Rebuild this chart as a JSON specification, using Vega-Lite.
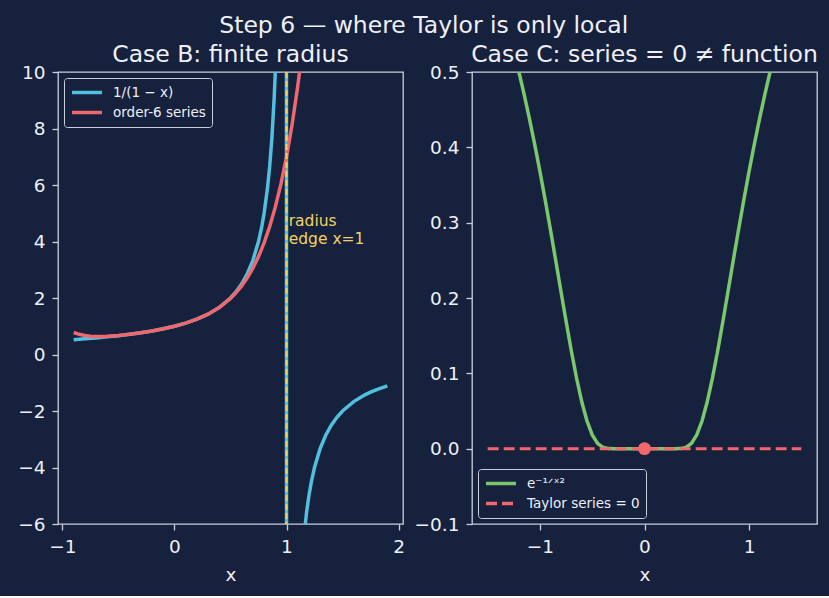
{
  "$schema": "https://vega.github.io/schema/vega-lite/v6.json",
  "background": "#16213e",
  "padding": {"left": 17, "top": 14, "right": 12, "bottom": 11},
  "title": {
    "text": "Step 6 — where Taylor is only local",
    "fontSize": 23.5,
    "fontWeight": "normal",
    "color": "#eef0f5",
    "anchor": "middle",
    "offset": 4,
    "dx": 6
  },
  "config": {
    "font": "DejaVu Sans",
    "view": {"stroke": "#c9cfdc", "strokeWidth": 1.3},
    "axis": {
      "grid": false,
      "domain": false,
      "tickColor": "#c9cfdc",
      "tickSize": 6,
      "tickWidth": 1.3,
      "labelColor": "#eef0f5",
      "labelFontSize": 18.5,
      "labelFont": "DejaVu Sans",
      "labelPadding": 7,
      "titleColor": "#eef0f5",
      "titleFontSize": 18.5,
      "titleFont": "DejaVu Sans",
      "titleFontWeight": "normal",
      "titlePadding": 10
    },
    "title": {"fontSize": 23.5, "fontWeight": "normal", "color": "#eef0f5", "offset": -3, "font": "DejaVu Sans"},
    "legend": {
      "offset": 6,
      "padding": 6,
      "strokeColor": "#c9cfdc",
      "fillColor": "#16213e",
      "cornerRadius": 3,
      "labelColor": "#eef0f5",
      "labelFontSize": 13.5,
      "labelFont": "DejaVu Sans",
      "symbolType": "stroke",
      "symbolSize": 900,
      "symbolStrokeWidth": 3.5,
      "labelOffset": 9,
      "rowPadding": 3,
      "clipHeight": 17
    }
  },
  "spacing": 69,
  "bounds": "flush",
  "resolve": {
    "scale": {"color": "independent", "strokeDash": "independent"},
    "legend": {"color": "independent", "strokeDash": "independent"}
  },
  "hconcat": [
    {
      "width": 345,
      "height": 452,
      "title": "Case B: finite radius",
      "data": {
        "values": [
          {"series": "1/(1 − x)", "x": -0.9, "y": 0.5263},
          {"series": "1/(1 − x)", "x": -0.8, "y": 0.5556},
          {"series": "1/(1 − x)", "x": -0.7, "y": 0.5882},
          {"series": "1/(1 − x)", "x": -0.6, "y": 0.625},
          {"series": "1/(1 − x)", "x": -0.5, "y": 0.6667},
          {"series": "1/(1 − x)", "x": -0.4, "y": 0.7143},
          {"series": "1/(1 − x)", "x": -0.3, "y": 0.7692},
          {"series": "1/(1 − x)", "x": -0.2, "y": 0.8333},
          {"series": "1/(1 − x)", "x": -0.1, "y": 0.9091},
          {"series": "1/(1 − x)", "x": 0, "y": 1},
          {"series": "1/(1 − x)", "x": 0.1, "y": 1.1111},
          {"series": "1/(1 − x)", "x": 0.2, "y": 1.25},
          {"series": "1/(1 − x)", "x": 0.3, "y": 1.4286},
          {"series": "1/(1 − x)", "x": 0.4, "y": 1.6667},
          {"series": "1/(1 − x)", "x": 0.5, "y": 2},
          {"series": "1/(1 − x)", "x": 0.55, "y": 2.2222},
          {"series": "1/(1 − x)", "x": 0.6, "y": 2.5},
          {"series": "1/(1 − x)", "x": 0.65, "y": 2.8571},
          {"series": "1/(1 − x)", "x": 0.7, "y": 3.3333},
          {"series": "1/(1 − x)", "x": 0.75, "y": 4},
          {"series": "1/(1 − x)", "x": 0.78, "y": 4.5455},
          {"series": "1/(1 − x)", "x": 0.8, "y": 5},
          {"series": "1/(1 − x)", "x": 0.83, "y": 5.8824},
          {"series": "1/(1 − x)", "x": 0.85, "y": 6.6667},
          {"series": "1/(1 − x)", "x": 0.87, "y": 7.6923},
          {"series": "1/(1 − x)", "x": 0.89, "y": 9.0909},
          {"series": "1/(1 − x)", "x": 0.9, "y": 10},
          {"series": "1/(1 − x)", "x": 0.92, "y": 12.5},
          {"series": "1/(1 − x)", "x": 0.95, "y": 20},
          {"series": "1/(1 − x)", "x": 0.98, "y": 50},
          {"series": "1/(1 − x)", "x": 0.995, "y": 200},
          {"series": "1/(1 − x)", "x": 1.005, "y": -200},
          {"series": "1/(1 − x)", "x": 1.02, "y": -50},
          {"series": "1/(1 − x)", "x": 1.05, "y": -20},
          {"series": "1/(1 − x)", "x": 1.1, "y": -10},
          {"series": "1/(1 − x)", "x": 1.12, "y": -8.3333},
          {"series": "1/(1 − x)", "x": 1.15, "y": -6.6667},
          {"series": "1/(1 − x)", "x": 1.18, "y": -5.5556},
          {"series": "1/(1 − x)", "x": 1.2, "y": -5},
          {"series": "1/(1 − x)", "x": 1.22, "y": -4.5455},
          {"series": "1/(1 − x)", "x": 1.25, "y": -4},
          {"series": "1/(1 − x)", "x": 1.3, "y": -3.3333},
          {"series": "1/(1 − x)", "x": 1.35, "y": -2.8571},
          {"series": "1/(1 − x)", "x": 1.4, "y": -2.5},
          {"series": "1/(1 − x)", "x": 1.45, "y": -2.2222},
          {"series": "1/(1 − x)", "x": 1.5, "y": -2},
          {"series": "1/(1 − x)", "x": 1.6, "y": -1.6667},
          {"series": "1/(1 − x)", "x": 1.7, "y": -1.4286},
          {"series": "1/(1 − x)", "x": 1.75, "y": -1.3333},
          {"series": "1/(1 − x)", "x": 1.8, "y": -1.25},
          {"series": "1/(1 − x)", "x": 1.9, "y": -1.1111},
          {"series": "order-6 series", "x": -0.9, "y": 0.7781},
          {"series": "order-6 series", "x": -0.85, "y": 0.7138},
          {"series": "order-6 series", "x": -0.8, "y": 0.6721},
          {"series": "order-6 series", "x": -0.75, "y": 0.6477},
          {"series": "order-6 series", "x": -0.7, "y": 0.6367},
          {"series": "order-6 series", "x": -0.65, "y": 0.6358},
          {"series": "order-6 series", "x": -0.6, "y": 0.6425},
          {"series": "order-6 series", "x": -0.5, "y": 0.6719},
          {"series": "order-6 series", "x": -0.4, "y": 0.7155},
          {"series": "order-6 series", "x": -0.3, "y": 0.7694},
          {"series": "order-6 series", "x": -0.2, "y": 0.8333},
          {"series": "order-6 series", "x": -0.1, "y": 0.9091},
          {"series": "order-6 series", "x": 0, "y": 1},
          {"series": "order-6 series", "x": 0.1, "y": 1.1111},
          {"series": "order-6 series", "x": 0.2, "y": 1.25},
          {"series": "order-6 series", "x": 0.3, "y": 1.4283},
          {"series": "order-6 series", "x": 0.4, "y": 1.6639},
          {"series": "order-6 series", "x": 0.5, "y": 1.9844},
          {"series": "order-6 series", "x": 0.55, "y": 2.1884},
          {"series": "order-6 series", "x": 0.6, "y": 2.43},
          {"series": "order-6 series", "x": 0.65, "y": 2.7171},
          {"series": "order-6 series", "x": 0.7, "y": 3.0588},
          {"series": "order-6 series", "x": 0.75, "y": 3.4661},
          {"series": "order-6 series", "x": 0.8, "y": 3.9514},
          {"series": "order-6 series", "x": 0.85, "y": 4.5295},
          {"series": "order-6 series", "x": 0.9, "y": 5.217},
          {"series": "order-6 series", "x": 0.95, "y": 6.0332},
          {"series": "order-6 series", "x": 1.0, "y": 7},
          {"series": "order-6 series", "x": 1.05, "y": 8.142},
          {"series": "order-6 series", "x": 1.1, "y": 9.487},
          {"series": "order-6 series", "x": 1.15, "y": 11.067},
          {"series": "order-6 series", "x": 1.2, "y": 12.916}
        ]
      },
      "encoding": {
        "x": {
          "field": "x",
          "type": "quantitative",
          "scale": {"domain": [-1.04, 2.04], "nice": false, "zero": false},
          "axis": {"values": [-1, 0, 1, 2], "format": "d", "title": "x"}
        },
        "y": {
          "field": "y",
          "type": "quantitative",
          "scale": {"domain": [-6, 10], "nice": false, "zero": false},
          "axis": {"values": [-6, -4, -2, 0, 2, 4, 6, 8, 10], "format": "d", "title": null}
        }
      },
      "layer": [
        {
          "transform": [{"filter": "datum.series === '1/(1 − x)'"}],
          "mark": {"type": "line", "clip": true, "strokeWidth": 3.5},
          "encoding": {
            "color": {
              "field": "series",
              "type": "nominal",
              "scale": {"domain": ["1/(1 − x)", "order-6 series"], "range": ["#52bfdc", "#f0686e"]},
              "legend": {"orient": "top-left", "title": null}
            }
          }
        },
        {
          "transform": [{"filter": "datum.series === 'order-6 series'"}],
          "mark": {"type": "line", "clip": true, "strokeWidth": 3.5},
          "encoding": {
            "color": {
              "field": "series",
              "type": "nominal",
              "scale": {"domain": ["1/(1 − x)", "order-6 series"], "range": ["#52bfdc", "#f0686e"]},
              "legend": {"orient": "top-left", "title": null}
            }
          }
        },
        {
          "data": {"values": [{"x": 1}]},
          "mark": {"type": "rule", "color": "#f2d262", "strokeWidth": 2, "strokeDash": [6, 3]},
          "encoding": {"x": {"field": "x", "type": "quantitative"}, "y": null}
        },
        {
          "data": {"values": [{"x": 1.02, "y": 4, "label": ["radius", "edge x=1"]}]},
          "mark": {"type": "text", "align": "left", "baseline": "bottom", "fontSize": 15.5, "lineHeight": 18, "color": "#f2d262", "dy": -13},
          "encoding": {
            "x": {"field": "x", "type": "quantitative"},
            "y": {"field": "y", "type": "quantitative"},
            "text": {"field": "label"}
          }
        }
      ]
    },
    {
      "width": 345,
      "height": 452,
      "title": "Case C: series = 0 ≠ function",
      "data": {
        "values": [
          {"series": "e⁻¹ᐟˣ²", "x": -1.5, "y": 0.6412},
          {"series": "e⁻¹ᐟˣ²", "x": -1.4, "y": 0.6004},
          {"series": "e⁻¹ᐟˣ²", "x": -1.3, "y": 0.5534},
          {"series": "e⁻¹ᐟˣ²", "x": -1.25, "y": 0.5273},
          {"series": "e⁻¹ᐟˣ²", "x": -1.2, "y": 0.4994},
          {"series": "e⁻¹ᐟˣ²", "x": -1.15, "y": 0.4695},
          {"series": "e⁻¹ᐟˣ²", "x": -1.1, "y": 0.4376},
          {"series": "e⁻¹ᐟˣ²", "x": -1.05, "y": 0.4037},
          {"series": "e⁻¹ᐟˣ²", "x": -1.0, "y": 0.3679},
          {"series": "e⁻¹ᐟˣ²", "x": -0.95, "y": 0.3302},
          {"series": "e⁻¹ᐟˣ²", "x": -0.9, "y": 0.291},
          {"series": "e⁻¹ᐟˣ²", "x": -0.85, "y": 0.2506},
          {"series": "e⁻¹ᐟˣ²", "x": -0.8, "y": 0.2096},
          {"series": "e⁻¹ᐟˣ²", "x": -0.75, "y": 0.169},
          {"series": "e⁻¹ᐟˣ²", "x": -0.7, "y": 0.1299},
          {"series": "e⁻¹ᐟˣ²", "x": -0.65, "y": 0.0938},
          {"series": "e⁻¹ᐟˣ²", "x": -0.6, "y": 0.0622},
          {"series": "e⁻¹ᐟˣ²", "x": -0.55, "y": 0.0367},
          {"series": "e⁻¹ᐟˣ²", "x": -0.5, "y": 0.0183},
          {"series": "e⁻¹ᐟˣ²", "x": -0.45, "y": 0.0072},
          {"series": "e⁻¹ᐟˣ²", "x": -0.4, "y": 0.0019},
          {"series": "e⁻¹ᐟˣ²", "x": -0.35, "y": 0.0003},
          {"series": "e⁻¹ᐟˣ²", "x": -0.3, "y": 0},
          {"series": "e⁻¹ᐟˣ²", "x": -0.2, "y": 0},
          {"series": "e⁻¹ᐟˣ²", "x": -0.1, "y": 0},
          {"series": "e⁻¹ᐟˣ²", "x": 0, "y": 0},
          {"series": "e⁻¹ᐟˣ²", "x": 0.1, "y": 0},
          {"series": "e⁻¹ᐟˣ²", "x": 0.2, "y": 0},
          {"series": "e⁻¹ᐟˣ²", "x": 0.3, "y": 0},
          {"series": "e⁻¹ᐟˣ²", "x": 0.35, "y": 0.0003},
          {"series": "e⁻¹ᐟˣ²", "x": 0.4, "y": 0.0019},
          {"series": "e⁻¹ᐟˣ²", "x": 0.45, "y": 0.0072},
          {"series": "e⁻¹ᐟˣ²", "x": 0.5, "y": 0.0183},
          {"series": "e⁻¹ᐟˣ²", "x": 0.55, "y": 0.0367},
          {"series": "e⁻¹ᐟˣ²", "x": 0.6, "y": 0.0622},
          {"series": "e⁻¹ᐟˣ²", "x": 0.65, "y": 0.0938},
          {"series": "e⁻¹ᐟˣ²", "x": 0.7, "y": 0.1299},
          {"series": "e⁻¹ᐟˣ²", "x": 0.75, "y": 0.169},
          {"series": "e⁻¹ᐟˣ²", "x": 0.8, "y": 0.2096},
          {"series": "e⁻¹ᐟˣ²", "x": 0.85, "y": 0.2506},
          {"series": "e⁻¹ᐟˣ²", "x": 0.9, "y": 0.291},
          {"series": "e⁻¹ᐟˣ²", "x": 0.95, "y": 0.3302},
          {"series": "e⁻¹ᐟˣ²", "x": 1.0, "y": 0.3679},
          {"series": "e⁻¹ᐟˣ²", "x": 1.05, "y": 0.4037},
          {"series": "e⁻¹ᐟˣ²", "x": 1.1, "y": 0.4376},
          {"series": "e⁻¹ᐟˣ²", "x": 1.15, "y": 0.4695},
          {"series": "e⁻¹ᐟˣ²", "x": 1.2, "y": 0.4994},
          {"series": "e⁻¹ᐟˣ²", "x": 1.25, "y": 0.5273},
          {"series": "e⁻¹ᐟˣ²", "x": 1.3, "y": 0.5534},
          {"series": "e⁻¹ᐟˣ²", "x": 1.4, "y": 0.6004},
          {"series": "e⁻¹ᐟˣ²", "x": 1.5, "y": 0.6412},
          {"series": "Taylor series = 0", "x": -1.5, "y": 0},
          {"series": "Taylor series = 0", "x": 1.5, "y": 0}
        ]
      },
      "encoding": {
        "x": {
          "field": "x",
          "type": "quantitative",
          "scale": {"domain": [-1.65, 1.65], "nice": false, "zero": false},
          "axis": {"values": [-1, 0, 1], "format": "d", "title": "x"}
        },
        "y": {
          "field": "y",
          "type": "quantitative",
          "scale": {"domain": [-0.1, 0.5], "nice": false, "zero": false},
          "axis": {"values": [-0.1, 0, 0.1, 0.2, 0.3, 0.4, 0.5], "format": ".1f", "title": null}
        }
      },
      "layer": [
        {
          "transform": [{"filter": "datum.series !== 'Taylor series = 0'"}],
          "mark": {"type": "line", "clip": true, "strokeWidth": 3.5},
          "encoding": {
            "color": {
              "field": "series",
              "type": "nominal",
              "scale": {"domain": ["e⁻¹ᐟˣ²", "Taylor series = 0"], "range": ["#7bc86c", "#f0686e"]},
              "legend": {"orient": "bottom-left", "title": null}
            },
            "strokeDash": {
              "field": "series",
              "type": "nominal",
              "scale": {"domain": ["e⁻¹ᐟˣ²", "Taylor series = 0"], "range": [[1, 0], [11, 5]]},
              "legend": {"orient": "bottom-left", "title": null}
            }
          }
        },
        {
          "transform": [{"filter": "datum.series === 'Taylor series = 0'"}],
          "mark": {"type": "line", "clip": true, "strokeWidth": 3},
          "encoding": {
            "color": {
              "field": "series",
              "type": "nominal",
              "scale": {"domain": ["e⁻¹ᐟˣ²", "Taylor series = 0"], "range": ["#7bc86c", "#f0686e"]},
              "legend": {"orient": "bottom-left", "title": null}
            },
            "strokeDash": {
              "field": "series",
              "type": "nominal",
              "scale": {"domain": ["e⁻¹ᐟˣ²", "Taylor series = 0"], "range": [[1, 0], [11, 5]]},
              "legend": {"orient": "bottom-left", "title": null}
            }
          }
        },
        {
          "data": {"values": [{"x": 0, "y": 0}]},
          "mark": {"type": "circle", "size": 165, "color": "#f0686e", "opacity": 1},
          "encoding": {
            "x": {"field": "x", "type": "quantitative"},
            "y": {"field": "y", "type": "quantitative"}
          }
        }
      ]
    }
  ]
}
